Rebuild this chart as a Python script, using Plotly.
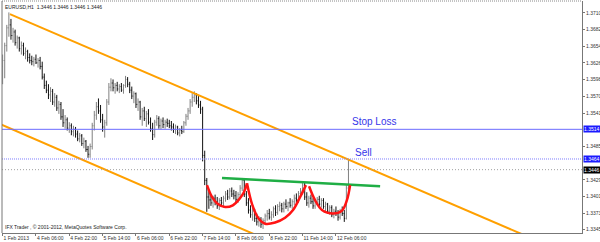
import plotly.graph_objects as go

# ---------------- data (EURUSD H1, 1 Feb 2013 14:00 -> 12 Feb 2013 12:00) ----------------
opens = [1.3620,1.3630,1.3655,1.3685,1.3690,1.3672,1.3678,1.3660,1.3668,1.3650,
         1.3655,1.3642,1.3645,1.3635,1.3630,1.3628,1.3632,1.3626,1.3630,1.3620,
         1.3602,1.3588,1.3580,1.3572,1.3578,1.3560,1.3568,1.3550,1.3556,1.3535,
         1.3525,1.3530,1.3516,1.3520,1.3510,1.3514,1.3506,1.3498,1.3503,1.3490,
         1.3494,1.3480,1.3472,1.3485,1.3520,1.3538,1.3552,1.3545,1.3530,1.3518,
         1.3525,1.3560,1.3585,1.3592,1.3584,1.3588,1.3582,1.3586,1.3580,1.3588,
         1.3598,1.3590,1.3580,1.3570,1.3574,1.3556,1.3560,1.3535,1.3545,1.3532,
         1.3540,1.3526,1.3515,1.3505,1.3526,1.3532,1.3520,1.3528,1.3522,1.3526,
         1.3524,1.3520,1.3518,1.3514,1.3518,1.3508,1.3512,1.3510,1.3525,1.3536,
         1.3545,1.3560,1.3568,1.3572,1.3562,1.3555,1.3548,1.3470,1.3428,1.3400,
         1.3395,1.3390,1.3398,1.3392,1.3385,1.3394,1.3390,1.3398,1.3405,1.3400,
         1.3410,1.3405,1.3402,1.3396,1.3404,1.3415,1.3428,1.3405,1.3390,1.3378,
         1.3370,1.3376,1.3364,1.3358,1.3362,1.3354,1.3360,1.3368,1.3372,1.3366,
         1.3370,1.3380,1.3374,1.3384,1.3386,1.3380,1.3388,1.3384,1.3390,1.3386,
         1.3392,1.3398,1.3395,1.3406,1.3410,1.3420,1.3400,1.3390,1.3398,1.3392,
         1.3385,1.3392,1.3396,1.3388,1.3394,1.3384,1.3388,1.3376,1.3382,1.3370,
         1.3376,1.3372,1.3366,1.3376,1.3372,1.3364,1.3415]
highs = [1.3640,1.3660,1.3690,1.3711,1.3700,1.3685,1.3682,1.3672,1.3670,1.3662,
         1.3660,1.3652,1.3648,1.3642,1.3638,1.3636,1.3640,1.3634,1.3636,1.3628,
         1.3608,1.3596,1.3590,1.3585,1.3582,1.3575,1.3572,1.3562,1.3560,1.3548,
         1.3538,1.3534,1.3526,1.3524,1.3520,1.3518,1.3512,1.3508,1.3506,1.3500,
         1.3496,1.3486,1.3490,1.3525,1.3545,1.3560,1.3566,1.3555,1.3540,1.3530,
         1.3565,1.3592,1.3600,1.3598,1.3592,1.3594,1.3590,1.3592,1.3590,1.3604,
         1.3602,1.3594,1.3586,1.3578,1.3576,1.3566,1.3562,1.3550,1.3552,1.3545,
         1.3548,1.3534,1.3525,1.3530,1.3538,1.3536,1.3532,1.3534,1.3530,1.3532,
         1.3530,1.3528,1.3524,1.3522,1.3520,1.3516,1.3520,1.3528,1.3540,1.3550,
         1.3565,1.3575,1.3578,1.3575,1.3570,1.3562,1.3552,1.3478,1.3432,1.3412,
         1.3405,1.3402,1.3404,1.3400,1.3398,1.3400,1.3402,1.3410,1.3412,1.3415,
         1.3416,1.3412,1.3410,1.3408,1.3420,1.3432,1.3430,1.3410,1.3398,1.3386,
         1.3382,1.3380,1.3372,1.3368,1.3366,1.3364,1.3372,1.3378,1.3380,1.3376,
         1.3384,1.3386,1.3388,1.3392,1.3390,1.3392,1.3396,1.3392,1.3398,1.3396,
         1.3404,1.3406,1.3410,1.3415,1.3425,1.3424,1.3408,1.3402,1.3404,1.3398,
         1.3396,1.3400,1.3402,1.3398,1.3398,1.3392,1.3390,1.3386,1.3386,1.3380,
         1.3384,1.3378,1.3380,1.3384,1.3378,1.3420,1.3464]
lows = [1.3590,1.3600,1.3645,1.3670,1.3665,1.3660,1.3655,1.3650,1.3645,1.3640,
        1.3638,1.3632,1.3628,1.3625,1.3622,1.3620,1.3624,1.3618,1.3615,1.3598,
        1.3582,1.3575,1.3565,1.3560,1.3555,1.3552,1.3545,1.3540,1.3530,1.3518,
        1.3515,1.3512,1.3508,1.3504,1.3502,1.3500,1.3494,1.3492,1.3486,1.3482,
        1.3476,1.3466,1.3466,1.3480,1.3512,1.3530,1.3540,1.3525,1.3510,1.3500,
        1.3520,1.3555,1.3578,1.3578,1.3574,1.3578,1.3575,1.3577,1.3574,1.3584,
        1.3585,1.3575,1.3565,1.3558,1.3550,1.3545,1.3530,1.3520,1.3528,1.3518,
        1.3522,1.3510,1.3496,1.3500,1.3520,1.3515,1.3514,1.3516,1.3515,1.3518,
        1.3516,1.3512,1.3508,1.3506,1.3504,1.3502,1.3506,1.3508,1.3520,1.3530,
        1.3540,1.3552,1.3560,1.3556,1.3550,1.3540,1.3460,1.3420,1.3375,1.3380,
        1.3385,1.3382,1.3386,1.3380,1.3378,1.3384,1.3382,1.3392,1.3395,1.3396,
        1.3400,1.3396,1.3390,1.3390,1.3400,1.3410,1.3400,1.3385,1.3372,1.3365,
        1.3360,1.3358,1.3352,1.3350,1.3348,1.3346,1.3355,1.3360,1.3362,1.3360,
        1.3365,1.3368,1.3370,1.3376,1.3374,1.3374,1.3380,1.3376,1.3382,1.3380,
        1.3386,1.3390,1.3390,1.3398,1.3404,1.3395,1.3385,1.3382,1.3388,1.3380,
        1.3380,1.3386,1.3384,1.3382,1.3380,1.3376,1.3372,1.3370,1.3366,1.3364,
        1.3368,1.3360,1.3362,1.3368,1.3358,1.3362,1.3410]
closes = [1.3630,1.3655,1.3685,1.3690,1.3672,1.3678,1.3660,1.3668,1.3650,1.3655,
          1.3642,1.3645,1.3635,1.3630,1.3628,1.3632,1.3626,1.3630,1.3620,1.3602,
          1.3588,1.3580,1.3572,1.3578,1.3560,1.3568,1.3550,1.3556,1.3535,1.3525,
          1.3530,1.3516,1.3520,1.3510,1.3514,1.3506,1.3498,1.3503,1.3490,1.3494,
          1.3480,1.3472,1.3485,1.3520,1.3538,1.3552,1.3545,1.3530,1.3518,1.3525,
          1.3560,1.3585,1.3592,1.3584,1.3588,1.3582,1.3586,1.3580,1.3588,1.3598,
          1.3590,1.3580,1.3570,1.3574,1.3556,1.3560,1.3535,1.3545,1.3532,1.3540,
          1.3526,1.3515,1.3505,1.3526,1.3532,1.3520,1.3528,1.3522,1.3526,1.3524,
          1.3520,1.3518,1.3514,1.3518,1.3508,1.3512,1.3510,1.3525,1.3536,1.3545,
          1.3560,1.3568,1.3572,1.3562,1.3555,1.3548,1.3470,1.3428,1.3400,1.3395,
          1.3390,1.3398,1.3392,1.3385,1.3394,1.3390,1.3398,1.3405,1.3400,1.3410,
          1.3405,1.3402,1.3396,1.3404,1.3415,1.3428,1.3405,1.3390,1.3378,1.3370,
          1.3376,1.3364,1.3358,1.3362,1.3354,1.3360,1.3368,1.3372,1.3366,1.3370,
          1.3380,1.3374,1.3384,1.3386,1.3380,1.3388,1.3384,1.3390,1.3386,1.3392,
          1.3398,1.3395,1.3406,1.3410,1.3420,1.3400,1.3390,1.3398,1.3392,1.3385,
          1.3392,1.3396,1.3388,1.3394,1.3384,1.3388,1.3376,1.3382,1.3370,1.3376,
          1.3372,1.3366,1.3376,1.3372,1.3364,1.3415,1.3446]
bar_index = list(range(len(closes)))

x_tick_bars = [0, 16, 32, 48, 64, 80, 96, 112, 128, 144, 160]
x_tick_text = ["1 Feb 2013", "4 Feb 06:00", "4 Feb 22:00", "5 Feb 14:00", "6 Feb 06:00",
               "6 Feb 22:00", "7 Feb 14:00", "8 Feb 06:00", "8 Feb 22:00",
               "11 Feb 14:00", "12 Feb 06:00"]
y_tick_vals = [1.3710, 1.3682, 1.3654, 1.3626, 1.3598, 1.3570, 1.3541,
               1.3485, 1.3429, 1.3401, 1.3373, 1.3345]

# channel lines (bar index, price)
upper_x = [3.5, 290.0]
upper_y = [1.3708, 1.3276]
lower_x = [-2.0, 140.0]
lower_y = [1.3524, 1.3308]
# neckline
neck_x = [105.3, 181.2]
neck_y = [1.3432, 1.3418]
# head & shoulders arcs
arc1_x = [98.1, 100.5, 103.0, 106.8, 110.5, 113.5, 115.8, 117.3]
arc1_y = [1.3420, 1.3400, 1.3389, 1.3383, 1.3386, 1.3396, 1.3408, 1.3423]
arc2_x = [117.3, 119.8, 122.6, 126.0, 130.8, 135.6, 139.4, 142.8, 145.6]
arc2_y = [1.3423, 1.3387, 1.3365, 1.3355, 1.3357, 1.3365, 1.3378, 1.3400, 1.3420]
arc3_x = [147.1, 149.9, 153.3, 158.6, 162.9, 165.3, 166.8]
arc3_y = [1.3418, 1.3395, 1.3378, 1.3372, 1.3377, 1.3395, 1.3420]

stop_loss = 1.3514
sell = 1.3464
last_price = 1.3446

FONT = "Liberation Sans, Arial"

fig = go.Figure()

for xs, ys in [(upper_x, upper_y), (lower_x, lower_y)]:
    fig.add_trace(go.Scatter(x=xs, y=ys, mode="lines",
                             line=dict(color="#ffa000", width=2), hoverinfo="skip"))

fig.add_trace(go.Ohlc(x=bar_index, open=opens, high=highs, low=lows, close=closes,
                      increasing=dict(line=dict(color="#808080", width=1)),
                      decreasing=dict(line=dict(color="#111111", width=1)),
                      tickwidth=0.35, hoverinfo="skip"))

fig.add_trace(go.Scatter(x=neck_x, y=neck_y, mode="lines",
                         line=dict(color="#1fae45", width=2.5), hoverinfo="skip"))
for xs, ys in [(arc1_x, arc1_y), (arc2_x, arc2_y), (arc3_x, arc3_y)]:
    fig.add_trace(go.Scatter(x=xs, y=ys, mode="lines",
                             line=dict(color="#ff1414", width=2.5, shape="spline"),
                             hoverinfo="skip"))

# horizontal levels
fig.add_hline(y=stop_loss, line=dict(color="#6b6bff", width=1))
fig.add_hline(y=sell, line=dict(color="#7d7dff", width=1, dash="1px,1px"))
fig.add_hline(y=last_price, line=dict(color="#a0a0a0", width=1, dash="1px,2px"))

fig.add_annotation(x=166.5, y=1.3527, text="Stop Loss", showarrow=False, xanchor="left",
                   font=dict(family=FONT, size=10, color="#3535ea"))
fig.add_annotation(x=168.3, y=1.3475, text="Sell", showarrow=False, xanchor="left",
                   font=dict(family=FONT, size=10, color="#3535ea"))

# price boxes on the right axis
for val, bg in [(stop_loss, "#1a1aff"), (sell, "#1a1aff"), (last_price, "#000000")]:
    fig.add_annotation(xref="paper", x=1, y=val, text=f"{val:.4f}", showarrow=False,
                       xanchor="left", xshift=1, bgcolor=bg, borderpad=0,
                       font=dict(family=FONT, size=5, color="white"))

fig.add_annotation(xref="paper", yref="paper", x=0, y=1, xanchor="left", yanchor="top",
                   xshift=1, yshift=-1, showarrow=False,
                   text="EURUSD,H1  1.3446 1.3446 1.3446 1.3446",
                   font=dict(family=FONT, size=5, color="#222"))
fig.add_annotation(xref="paper", yref="paper", x=0, y=0, xanchor="left", yanchor="bottom",
                   xshift=1, yshift=1, showarrow=False,
                   text="IFX Trader , © 2001-2012, MetaQuotes Software Corp.",
                   font=dict(family=FONT, size=5, color="#222"))

# frame: dotted top, solid left
fig.add_shape(type="line", xref="paper", yref="paper", x0=0, x1=1, y0=1, y1=1,
              line=dict(color="#888", width=1, dash="1px,1px"))
fig.add_shape(type="line", xref="paper", yref="paper", x0=0, x1=0, y0=0, y1=1,
              line=dict(color="#777", width=1))

fig.update_layout(
    width=600, height=242, margin=dict(l=2, r=18, t=1, b=9, autoexpand=False),
    paper_bgcolor="white", plot_bgcolor="white", showlegend=False,
    xaxis=dict(range=[-0.3, 278.1], rangeslider=dict(visible=False), showgrid=False,
               zeroline=False, showline=True, linecolor="#777", linewidth=1,
               tickvals=x_tick_bars, ticktext=x_tick_text, ticks="outside", ticklen=2,
               tickcolor="#777", ticklabelposition="outside right", tickangle=0,
               automargin=False,
               tickfont=dict(family=FONT, size=5, color="#333")),
    yaxis=dict(range=[1.33393, 1.37302], side="right", showgrid=False, zeroline=False,
               showline=True, linecolor="#777", linewidth=1, automargin=False,
               tickvals=y_tick_vals, tickformat=".4f", ticks="outside", ticklen=2,
               tickcolor="#777",
               tickfont=dict(family=FONT, size=5, color="#333")),
)

fig.write_html("out.html")
